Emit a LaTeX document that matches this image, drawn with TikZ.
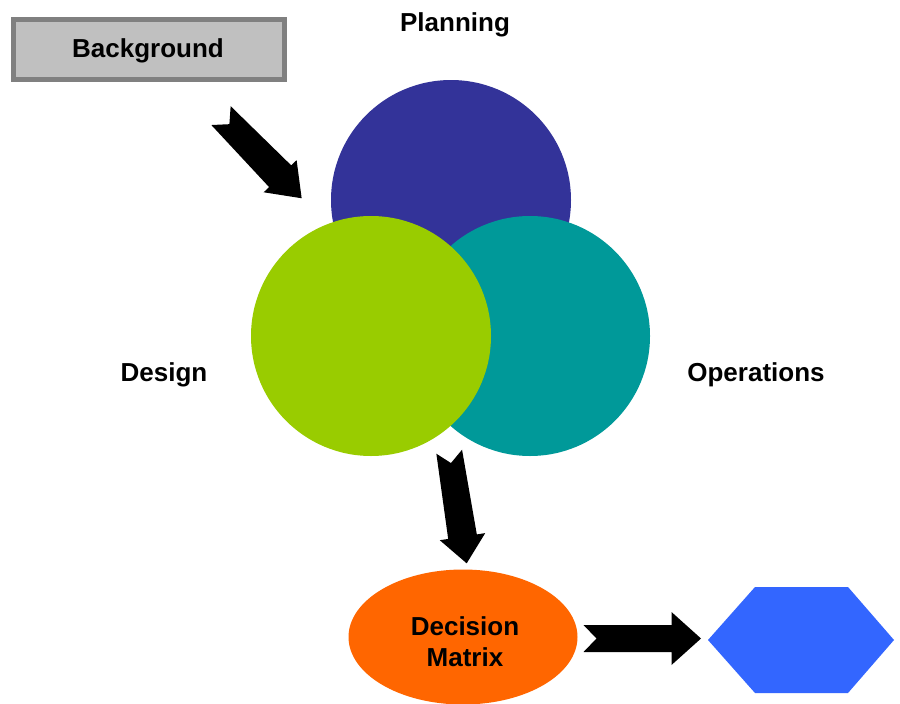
\documentclass[tikz,border=0pt]{standalone}
\usepackage{fontspec}
\setmainfont{Liberation Sans}
\usetikzlibrary{shapes.geometric}
\definecolor{planc}{HTML}{333399}
\definecolor{desc}{HTML}{99CC00}
\definecolor{opc}{HTML}{009999}
\definecolor{decc}{HTML}{FF6600}
\definecolor{hexc}{HTML}{3366FF}
\definecolor{bgfill}{HTML}{C0C0C0}
\definecolor{bgline}{HTML}{808080}
% #1,#2 tail mid; #3 angle; #4 length; #5 shaft half at tail; #6 shaft half at head;
% #7 head half; #8 head length; #9 notch depth
\newcommand\blockarr[9]{%
  \begin{scope}[shift={(#1,#2)},rotate=#3]
    \fill[black] (0,-#5) -- ({#4-#8},-#6) -- ({#4-#8},-#7) -- (#4,0) -- ({#4-#8},#7) -- ({#4-#8},#6) -- (0,#5) -- (#9,0) -- cycle;
  \end{scope}}
\tikzset{
  lbl/.style={font=\fontsize{26}{31}\selectfont\bfseries, inner sep=0pt, align=center},
  bubble/.style={circle, minimum size=240pt, inner sep=0pt, draw=none},
}
\begin{document}
\begin{tikzpicture}[x=1pt,y=-1pt]
\useasboundingbox (0,0) rectangle (900,704);
\fill[white] (0,0) rectangle (900,704);
% background box
\node[draw=bgline, fill=bgfill, line width=5pt, minimum width=271pt, minimum height=60pt, inner sep=0pt] (bg) at (149,49.5) {};
\node[lbl, anchor=base] (bgt) at (148,57.5) {Background};
% circles
\node[bubble, fill=planc] (plan) at (451,200) {};
\node[bubble, fill=opc] (ops) at (530,336) {};
\node[bubble, fill=desc] (des) at (371,336) {};
\node[lbl, anchor=base] (plant) at (455,31) {Planning};
\node[lbl, anchor=base] (dest) at (164,381) {Design};
\node[lbl, anchor=base] (opst) at (756,381) {Operations};
% decision ellipse
\node[ellipse, fill=decc, minimum width=229pt, minimum height=135pt, inner sep=0pt] (dec) at (463,637) {};
\node[lbl] (dect) at (465,641.5) {Decision\\Matrix};
% hexagon
\fill[hexc] (708,640) -- (755,587) -- (848,587) -- (894,640) -- (848,693) -- (755,693) -- cycle;
% block arrows
\blockarr{221}{115.6}{-45.7}{115.5}{13.5}{15.5}{23}{30.8}{12}
\blockarr{449.2}{451.7}{-81.1}{113}{13}{14.5}{23}{27}{11.5}
\blockarr{583.5}{638.5}{0}{117.5}{13.5}{13.5}{26.5}{29.5}{13}
\end{tikzpicture}
\end{document}
